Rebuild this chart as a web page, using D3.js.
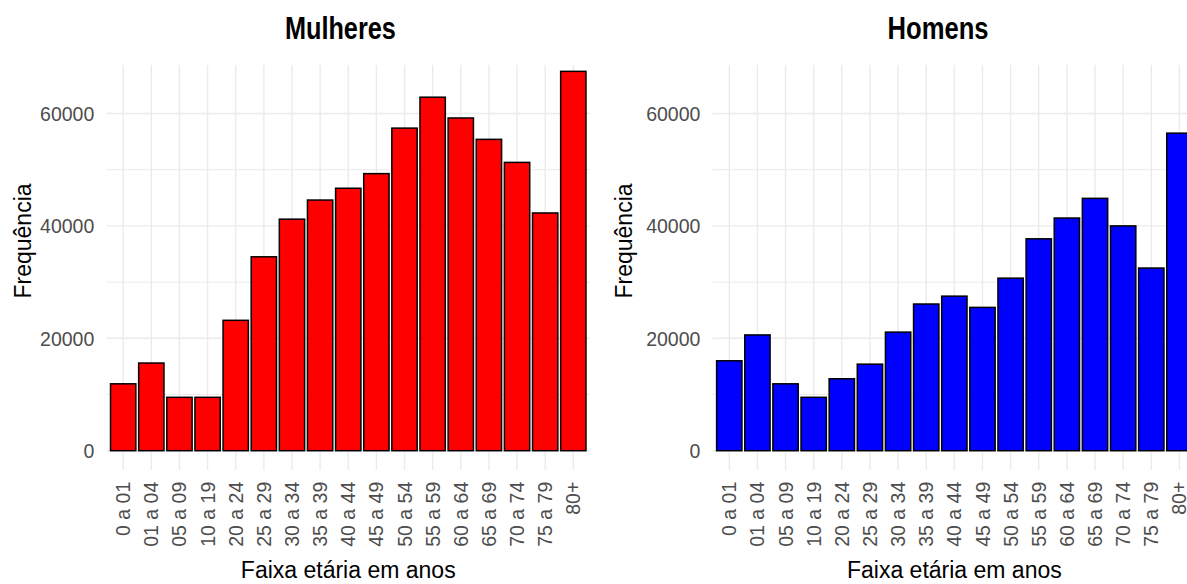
<!DOCTYPE html>
<html><head><meta charset="utf-8">
<script src="https://cdn.jsdelivr.net/npm/d3@7"></script>
<style>
html,body{margin:0;padding:0;background:#fff;}
svg{display:block;font-family:"Liberation Sans",Arial,sans-serif;}
</style></head>
<body>
<svg id="chart" width="1187" height="584"></svg>
<script>
const categories = ["0 a 01","01 a 04","05 a 09","10 a 19","20 a 24","25 a 29","30 a 34","35 a 39","40 a 44","45 a 49","50 a 54","55 a 59","60 a 64","65 a 69","70 a 74","75 a 79","80+"];
const mulheres = [11900,15600,9500,9500,23200,34500,41200,44600,46700,49300,57400,62900,59200,55400,51300,42300,67500];
const homens   = [16000,20600,11900,9500,12800,15400,21100,26100,27500,25500,30700,37700,41400,44900,40000,32500,56500];
const majorTicks = [0,20000,40000,60000];
const minorTicks = [10000,30000,50000];
const panelTitles = ["Mulheres","Homens"];
const xTitle = "Faixa etária em anos";
const yTitle = "Frequência";
const yDomain = [-3434, 68630];

const svg = d3.select("#chart");

const panels = [
  {title: panelTitles[0], values: mulheres, fill: "#ff0000", x0: 106.3, x1: 590.2, titleX: 340.4, titleW: 111, yTitleX: 30.5},
  {title: panelTitles[1], values: homens,   fill: "#0000ff", x0: 712.4, x1: 1196.3, titleX: 938, titleW: 101, yTitleX: 632}
];
const panelTop = 65, panelBottom = 470;

panels.forEach(p => {
  const g = svg.append("g");
  const x = d3.scaleBand().domain(categories).range([p.x0, p.x1]).paddingInner(0.1).paddingOuter(0.15);
  const y = d3.scaleLinear().domain(yDomain).range([panelBottom, panelTop]);

  g.selectAll(".minor").data(minorTicks).join("line")
    .attr("x1", p.x0).attr("x2", p.x1)
    .attr("y1", d => y(d)).attr("y2", d => y(d))
    .attr("stroke", "#ebebeb").attr("stroke-width", 1);
  g.selectAll(".major").data(majorTicks).join("line")
    .attr("x1", p.x0).attr("x2", p.x1)
    .attr("y1", d => y(d)).attr("y2", d => y(d))
    .attr("stroke", "#ebebeb").attr("stroke-width", 1.4);
  g.selectAll(".vgrid").data(categories).join("line")
    .attr("x1", d => x(d) + x.bandwidth()/2).attr("x2", d => x(d) + x.bandwidth()/2)
    .attr("y1", panelTop).attr("y2", panelBottom)
    .attr("stroke", "#ebebeb").attr("stroke-width", 1.4);

  g.selectAll(".bar").data(p.values).join("rect")
    .attr("x", (d,i) => x(categories[i]))
    .attr("width", x.bandwidth())
    .attr("y", d => y(d))
    .attr("height", d => y(0) - y(d))
    .attr("fill", p.fill)
    .attr("stroke", "#000").attr("stroke-width", 1.5);

  const yAxis = d3.axisLeft(y).tickValues(majorTicks).tickFormat(d3.format("d")).tickSize(0).tickPadding(12);
  const ya = g.append("g").attr("transform", `translate(${p.x0},0)`).call(yAxis);
  ya.select(".domain").remove();
  ya.selectAll("text").attr("fill", "#4d4d4d").style("font-size", "19.5px").attr("dy", "0.36em");

  const xAxis = d3.axisBottom(x).tickSize(0).tickPadding(0);
  const xa = g.append("g").attr("transform", `translate(0,${panelBottom})`).call(xAxis);
  xa.select(".domain").remove();
  xa.selectAll("text")
    .attr("fill", "#4d4d4d").style("font-size", "19.5px")
    .attr("transform", "rotate(-90)")
    .attr("text-anchor", "end")
    .attr("x", -11.7).attr("y", 0).attr("dy", "0.36em");

  g.append("text").attr("x", (p.x0 + p.x1)/2).attr("y", 578)
    .attr("text-anchor", "middle").style("font-size", "23px").attr("fill", "#000").text(xTitle);
  g.append("text").attr("transform", `translate(${p.yTitleX},241) rotate(-90)`)
    .attr("text-anchor", "middle").style("font-size", "23px").attr("fill", "#000").text(yTitle);

  g.append("text").attr("x", p.titleX).attr("y", 39.3)
    .attr("text-anchor", "middle").style("font-size", "32px").style("font-weight", "bold")
    .attr("textLength", p.titleW).attr("lengthAdjust", "spacingAndGlyphs")
    .attr("fill", "#000").text(p.title);
});
</script>
</body></html>
